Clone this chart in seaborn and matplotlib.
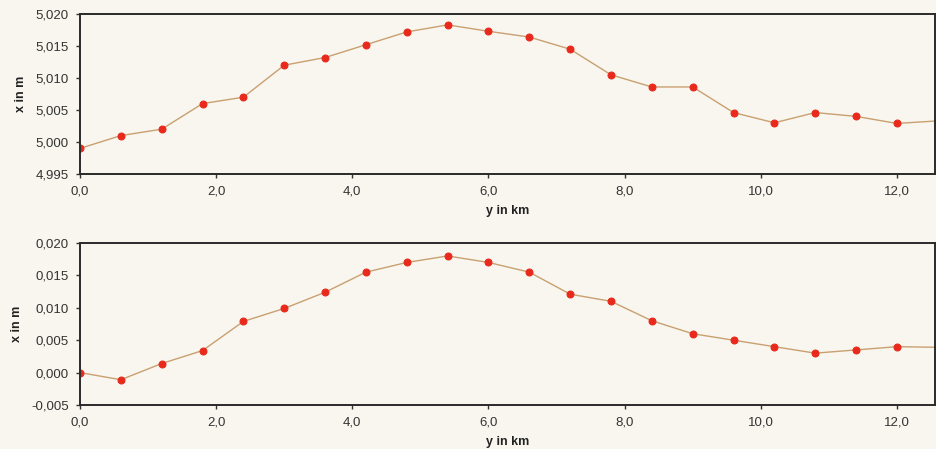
import numpy as np
import pandas as pd
import matplotlib
matplotlib.use("Agg")
import matplotlib.pyplot as plt
import matplotlib.ticker as mticker
import seaborn as sns

# distance along profile in km
y_km = [0.0, 0.6, 1.2, 1.8, 2.4, 3.0, 3.6, 4.2, 4.8, 5.4, 6.0,
        6.6, 7.2, 7.8, 8.4, 9.0, 9.6, 10.2, 10.8, 11.4, 12.0, 12.6]

# absolute x position (top) and deviation (bottom), in m
x_abs = [4.9990, 5.0010, 5.0020, 5.0060, 5.0070, 5.0120, 5.0132, 5.0152,
         5.0172, 5.0183, 5.0173, 5.0164, 5.0145, 5.0105, 5.0086, 5.0086,
         5.0046, 5.0030, 5.0046, 5.0040, 5.0029, 5.0033]
x_dev = [0.0000, -0.0011, 0.0014, 0.0034, 0.0079, 0.0099, 0.0124, 0.0155,
         0.0170, 0.0180, 0.0170, 0.0155, 0.0121, 0.0110, 0.0080, 0.0060,
         0.0050, 0.0040, 0.0030, 0.0035, 0.0040, 0.0039]

df = pd.DataFrame({"y": y_km, "abs": x_abs, "dev": x_dev})

sns.set_style("ticks")
plt.rcParams["font.family"] = ["Liberation Sans", "DejaVu Sans"]

BG = "#f8f6ef"
LINE = "#c9a070"
DOT = "#e8291c"

fig = plt.figure(figsize=(9.37, 4.49), dpi=100, facecolor=BG)
ax1 = fig.add_axes([0.0854, 0.6125, 0.9125, 0.3563])
ax2 = fig.add_axes([0.0854, 0.098, 0.9125, 0.3608])


def comma_fmt(decimals):
    return mticker.FuncFormatter(lambda v, p: f"{v:.{decimals}f}".replace(".", ","))


for ax, col, lims, step in [(ax1, "abs", (4.995, 5.020), 0.005),
                            (ax2, "dev", (-0.005, 0.020), 0.005)]:
    ax.set_facecolor(BG)
    sns.lineplot(data=df, x="y", y=col, ax=ax, color=LINE, linewidth=1.0,
                 marker="o", markersize=5, markerfacecolor=DOT,
                 markeredgecolor=DOT)
    ax.set_xlim(0, 12.56)
    ax.set_ylim(*lims)
    ax.xaxis.set_major_locator(mticker.MultipleLocator(2.0))
    ax.yaxis.set_major_locator(mticker.MultipleLocator(step))
    ax.xaxis.set_major_formatter(comma_fmt(1))
    ax.yaxis.set_major_formatter(comma_fmt(3))
    ax.tick_params(axis="both", labelsize=9.5, length=3, width=1.0,
                   colors="#333333", labelcolor="#333333", pad=5)
    for s in ax.spines.values():
        s.set_visible(True)
        s.set_linewidth(1.4)
        s.set_color("#2a2a2a")
    ax.set_xlabel("y in km", fontsize=9, fontweight="bold", color="#222222",
                  labelpad=6)
    ax.set_ylabel("x in m", fontsize=9, fontweight="bold", color="#222222",
                  labelpad=6)

fig.savefig("out.png", dpi=100, facecolor=BG)
